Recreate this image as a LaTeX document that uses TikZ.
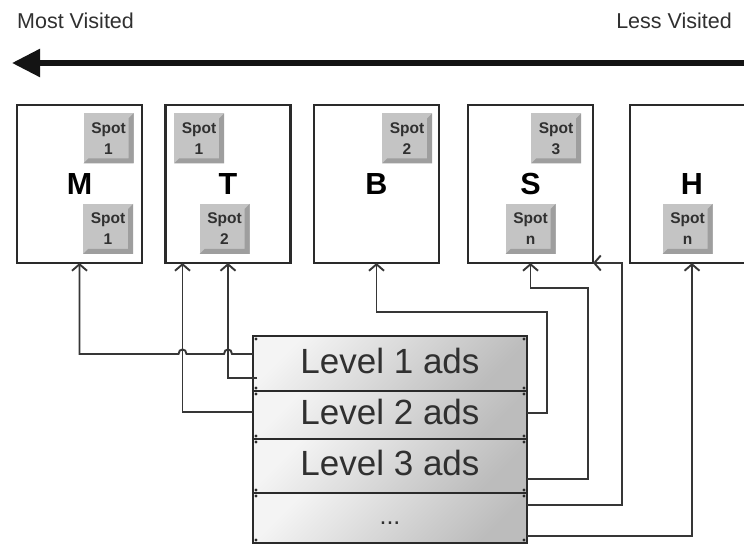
\documentclass[tikz,border=0pt]{standalone}
\usepackage{fontspec}
\setmainfont{Liberation Sans}
\usetikzlibrary{arrows.meta,calc}
\definecolor{ink}{HTML}{303030}
\definecolor{frame}{HTML}{2A2A2A}
\definecolor{wire}{HTML}{363636}
\definecolor{btnface}{HTML}{C4C4C4}
\definecolor{btnshade}{HTML}{9E9E9E}
\definecolor{lvltop}{HTML}{F4F4F4}
\definecolor{lvlbot}{HTML}{BCBCBC}

\begin{document}
\begin{tikzpicture}[x=1pt,y=-1pt,
  page/.style={draw=frame, line width=2.6pt, fill=white,
    minimum width=125pt, minimum height=158pt, inner sep=0pt, outer sep=0pt,
    text=black, font=\bfseries\fontsize{30.5}{30}\selectfont},
  spotbtn/.style={fill=btnface, minimum size=50pt, inner sep=0pt, outer sep=0pt,
    align=center, text=ink, font=\bfseries\fontsize{15.5}{21}\selectfont,
    path picture={
      \fill[btnshade] (path picture bounding box.south west)
        -- (path picture bounding box.south east)
        -- (path picture bounding box.north east)
        -- ([shift={(-5pt,-5pt)}]path picture bounding box.north east)
        -- ([shift={(-5pt,5pt)}]path picture bounding box.south east)
        -- ([shift={(5pt,5pt)}]path picture bounding box.south west) -- cycle;
    }},
  level/.style={draw=frame, line width=2.4pt, minimum width=274pt,
    inner sep=0pt, outer sep=0pt, top color=lvltop, bottom color=lvlbot,
    shading angle=45, text=ink, font=\fontsize{35}{35}\selectfont,
    text height=25pt, text depth=6pt},
  conn/.style={draw=wire, line width=1.9pt, -{Straight Barb[length=6.5pt,width=15pt]}},
  caption/.style={inner sep=0pt, text=ink, font=\fontsize{21.5}{22}\selectfont},
]
\useasboundingbox (0,0) rectangle (744,545);
\fill[white] (0,0) rectangle (744,545);
\clip (0,0) rectangle (744,545);

% popularity axis
\node[caption, anchor=base west] (most) at (17,29) {Most Visited};
\node[caption, anchor=base east] (less) at (732,29) {Less Visited};
\coordinate (arrowR) at (744,63);
\coordinate (arrowL) at (12,63);
\draw[line width=5.5pt, draw=black!92, -{Triangle[length=28pt,width=27pt]}] (arrowR) -- (arrowL);

% site pages
\node[page] (M) at (79.5,184) {M};
\node[page] (T) at (228,184) {T};
\node[page] (B) at (376.5,184) {B};
\node[page] (S) at (530.5,184) {S};
\node[page, minimum width=124pt] (H) at (692,184) {H};

% ad spots
\node[spotbtn] (m1) at (108.5,138.5) {Spot\\1};
\node[spotbtn] (m2) at (108,229) {Spot\\1};
\node[spotbtn] (t1) at (199,138.5) {Spot\\1};
\node[spotbtn] (t2) at (224.5,229) {Spot\\2};
\node[spotbtn] (b2) at (407,138.5) {Spot\\2};
\node[spotbtn] (s3) at (556,138.5) {Spot\\3};
\node[spotbtn] (sn) at (530.5,229) {Spot\\n};
\node[spotbtn] (hn) at (687.5,229) {Spot\\n};

% ad levels
\node[level, minimum height=55pt] (L1) at (390,363.5) {Level 1 ads};
\node[level, minimum height=48pt] (L2) at (390,415) {Level 2 ads};
\node[level, minimum height=54pt] (L3) at (390,466) {Level 3 ads};
\node[level, minimum height=50pt, font=\fontsize{25}{25}\selectfont,
      text height=18pt, text depth=6pt] (L4) at (390,518) {...};
\foreach \n in {L1,L2,L3,L4}
  \foreach \a/\dx/\dy in {north west/3/-3, north east/-3/-3, south west/3/3, south east/-3/3}
    \fill[frame] ([xshift=\dx pt, yshift=\dy pt]\n.\a) circle[radius=1.7pt];

% links from levels to spots
\coordinate (Tl) at ([xshift=17pt]T.south west);
\coordinate (mStart) at ([yshift=9.5pt]L1.west);
\coordinate (hopA) at (T.south |- mStart);
\coordinate (hopB) at (Tl |- mStart);
\draw[conn] (mStart) -- ($(hopA)+(4,0)$)
  .. controls +(0,-6) and +(0,-6) .. ($(hopA)+(-4,0)$)
  -- ($(hopB)+(4,0)$)
  .. controls +(0,-6) and +(0,-6) .. ($(hopB)+(-4,0)$)
  -- (M.south |- mStart) -- (M.south);
\draw[conn] ([xshift=4pt,yshift=-14.5pt]L1.west) -| (T.south);
\draw[conn] ([yshift=3pt]L2.west) -| (Tl);
\draw[conn] ([yshift=2pt]L2.east) -- ++(20,0) |- ([yshift=-49pt]B.south) -- (B.south);
\draw[conn] ([yshift=-13pt]L3.east) -- ++(61,0) |- ([yshift=-25pt]S.south) -- (S.south);
\draw[conn] ([yshift=13pt]L4.east) -- ++(95,0) |- (S.south east);
\draw[conn] ([yshift=-18pt]L4.east) -| (H.south);
\end{tikzpicture}
\end{document}
